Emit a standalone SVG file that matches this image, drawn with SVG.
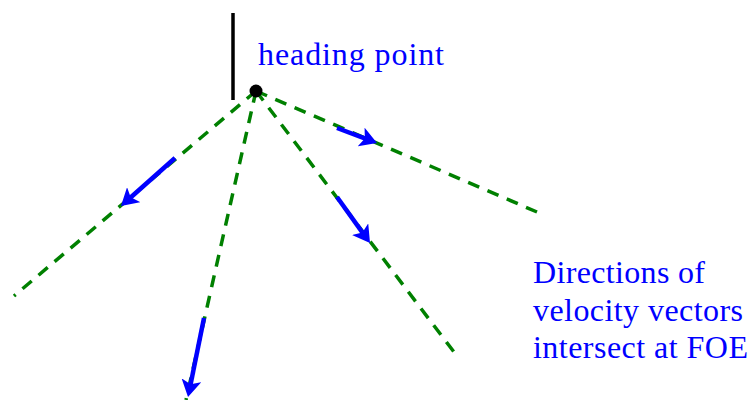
<svg xmlns="http://www.w3.org/2000/svg" width="754" height="400" viewBox="0 0 754 400">
<defs>
<style>
.ray{stroke:#008000;stroke-width:3.5;stroke-dasharray:12 9;fill:none}
.vec{stroke:#0000ff;stroke-width:4.5;fill:none;marker-end:url(#ah)}
.lbl{font-family:"Liberation Serif","DejaVu Serif",serif;font-size:32px;fill:#0000ff}
</style>
<marker id="ah" markerUnits="userSpaceOnUse" markerWidth="18" markerHeight="20" refX="6" refY="10" orient="auto" viewBox="0 0 18 20">
<path d="M0,0 L17,10 L0,20 L4,10 z" fill="#0000ff"/>
</marker>
</defs>
<rect width="754" height="400" fill="#ffffff"/>
<g id="connectors">
<line class="ray" x1="256" y1="91" x2="14" y2="296"/>
<line class="ray" x1="256" y1="91" x2="186" y2="400"/>
<line class="ray" x1="256" y1="91" x2="457" y2="356"/>
<line class="ray" x1="256" y1="91" x2="537" y2="212"/>
<line class="vec" x1="175" y1="158" x2="129.2" y2="198.7"/>
<line class="vec" x1="204" y1="318" x2="190.2" y2="386.2"/>
<line class="vec" x1="337" y1="197" x2="363.6" y2="234.1"/>
<line class="vec" x1="337" y1="128" x2="366.7" y2="139.1"/>
</g>
<g id="heading-marker">
<line x1="233" y1="13" x2="233" y2="100" stroke="#000000" stroke-width="3.5"/>
</g>
<g id="heading-point">
<circle cx="256" cy="91" r="6.5" fill="#000000"/>
<text class="lbl" x="258" y="65" textLength="186" lengthAdjust="spacing">heading point</text>
</g>
<g id="foe-label">
<text class="lbl" x="533" y="283" textLength="172" lengthAdjust="spacing">Directions of</text>
<text class="lbl" x="533" y="321" textLength="210" lengthAdjust="spacing">velocity vectors</text>
<text class="lbl" x="533" y="358" textLength="215" lengthAdjust="spacing">intersect at FOE</text>
</g>
</svg>
